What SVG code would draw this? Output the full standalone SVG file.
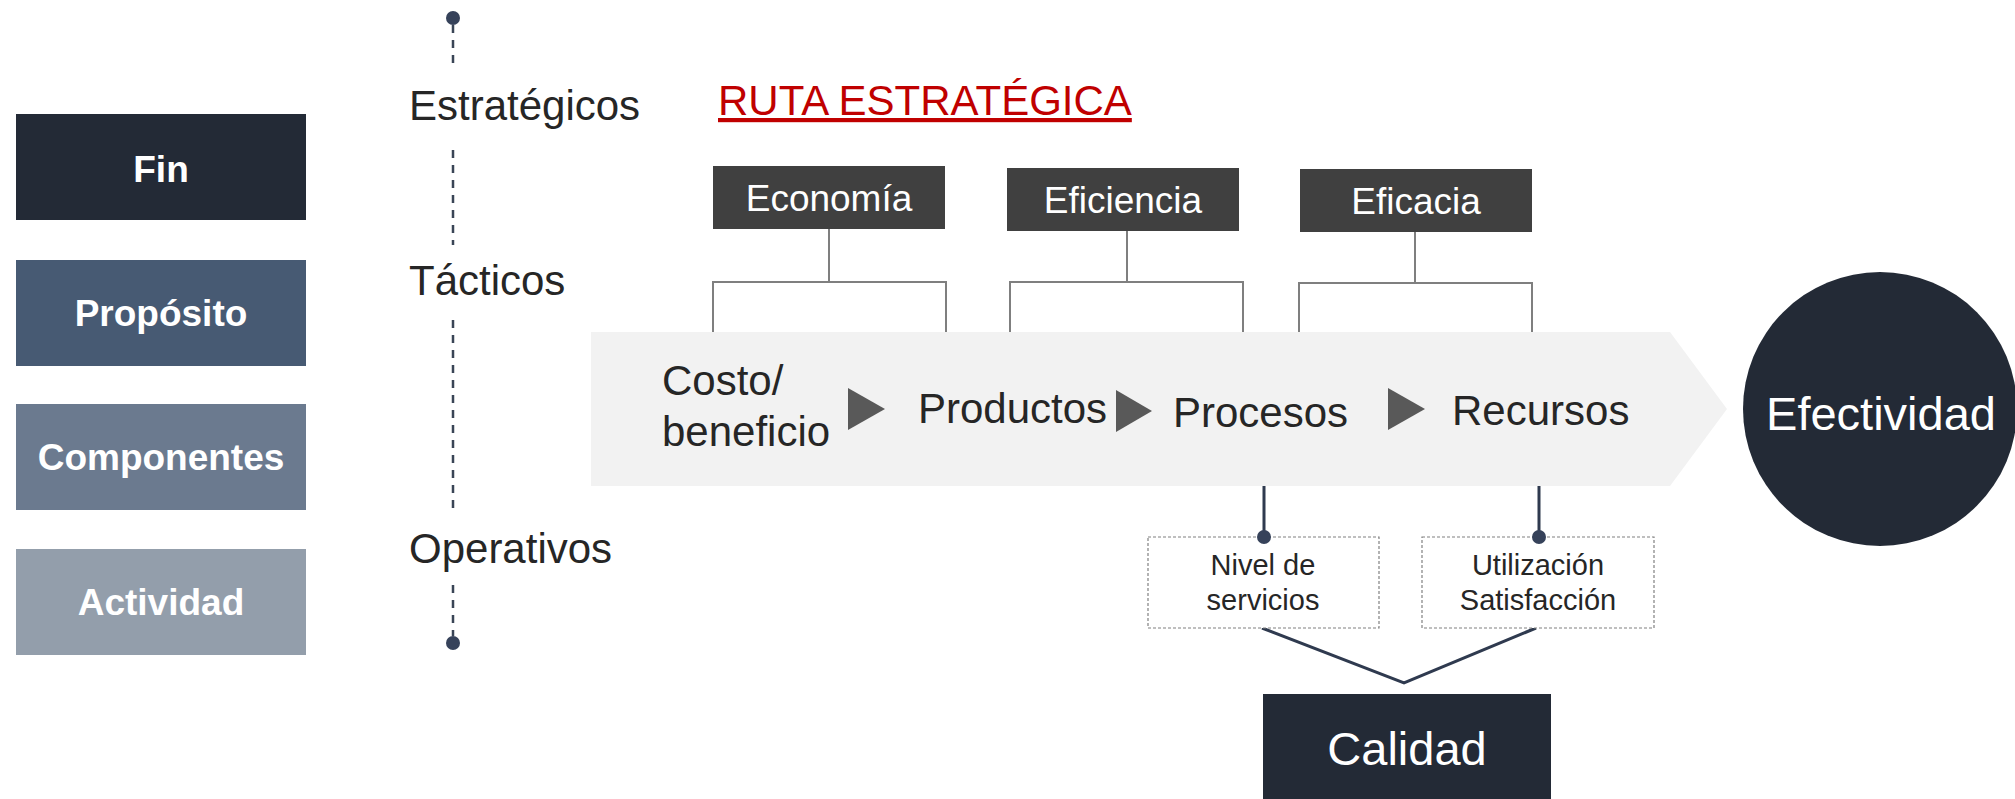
<svg xmlns="http://www.w3.org/2000/svg" width="2015" height="799" viewBox="0 0 2015 799">
<style>
.lbl{font-family:"Liberation Sans",Arial,sans-serif;fill:#262626}
.lvl{font-size:42px}
.side{font-family:"Liberation Sans",Arial,sans-serif;font-weight:bold;font-size:37px;fill:#ffffff;text-anchor:middle}
.hdr{font-family:"Liberation Sans",Arial,sans-serif;font-size:37px;fill:#ffffff;text-anchor:middle}
.hbox{fill:#404040}
.brk{fill:none;stroke:#7f7f7f;stroke-width:2}
.tri{fill:#595959}
.conn{fill:none;stroke:#2f3a4f;stroke-width:3}
.dot{fill:#36425a}
.dbox{fill:#ffffff;stroke:#808080;stroke-width:1.2;stroke-dasharray:3 2}
.small{font-size:29px;text-anchor:middle}
</style>
<rect width="2015" height="799" fill="#ffffff"/>

<g id="fin"><rect x="16" y="114" width="290" height="106" fill="#232a36"/><text class="side" x="161" y="182">Fin</text></g>
<g id="proposito"><rect x="16" y="260" width="290" height="106" fill="#475a73"/><text class="side" x="161" y="326">Propósito</text></g>
<g id="componentes"><rect x="16" y="404" width="290" height="106" fill="#6b7a8f"/><text class="side" x="161" y="470">Componentes</text></g>
<g id="actividad"><rect x="16" y="549" width="290" height="106" fill="#939eab"/><text class="side" x="161" y="615">Actividad</text></g>

<g id="levels">
<path d="M453 25V65M453 150V245M453 320V512M453 585V636" stroke="#3a4556" stroke-width="2.5" stroke-dasharray="8 7" fill="none"/>
<circle class="dot" cx="453" cy="18" r="7"/>
<circle class="dot" cx="453" cy="643" r="7"/>
<text class="lbl lvl" x="409" y="120">Estratégicos</text>
<text class="lbl lvl" x="409" y="295">Tácticos</text>
<text class="lbl lvl" x="409" y="563">Operativos</text>
</g>

<g id="title"><text x="718" y="115" font-family="&quot;Liberation Sans&quot;,Arial,sans-serif" font-size="42" fill="#c00000" text-decoration="underline">RUTA ESTRATÉGICA</text></g>

<g id="connectors">
<path class="brk" d="M829 229V282M713 332V282H946V332"/>
<path class="brk" d="M1127 231V282M1010 332V282H1243V332"/>
<path class="brk" d="M1415 232V283M1299 332V283H1532V332"/>
<path class="conn" d="M1264 486V537M1539 486V537"/>
<path class="conn" d="M1262 628L1404 683L1536 628"/>
</g>

<g id="economia"><rect class="hbox" x="713" y="166" width="232" height="63"/><text class="hdr" x="829" y="211">Economía</text></g>
<g id="eficiencia"><rect class="hbox" x="1007" y="168" width="232" height="63"/><text class="hdr" x="1123" y="213">Eficiencia</text></g>
<g id="eficacia"><rect class="hbox" x="1300" y="169" width="232" height="63"/><text class="hdr" x="1416" y="214">Eficacia</text></g>

<g id="ruta">
<path d="M591 332H1670L1727 409L1670 486H591Z" fill="#f2f2f2"/>
<text class="lbl lvl" x="662" y="395">Costo/</text>
<text class="lbl lvl" x="662" y="446">beneficio</text>
<path class="tri" d="M848 388L885 409L848 430Z"/>
<text class="lbl lvl" x="918" y="423">Productos</text>
<path class="tri" d="M1116 390L1152 411L1116 432Z"/>
<text class="lbl lvl" x="1173" y="427">Procesos</text>
<path class="tri" d="M1388 388L1425 409L1388 430Z"/>
<text class="lbl lvl" x="1452" y="425">Recursos</text>
</g>

<g id="efectividad"><circle cx="1880" cy="409" r="137" fill="#232a36"/><text x="1881" y="430" font-family="&quot;Liberation Sans&quot;,Arial,sans-serif" font-size="47" fill="#ffffff" text-anchor="middle">Efectividad</text></g>

<g id="nivel"><rect class="dbox" x="1148" y="537" width="231" height="91"/><circle class="dot" cx="1264" cy="537" r="7"/><text class="lbl small" x="1263" y="575">Nivel de</text><text class="lbl small" x="1263" y="610">servicios</text></g>
<g id="utilizacion"><rect class="dbox" x="1422" y="537" width="232" height="91"/><circle class="dot" cx="1539" cy="537" r="7"/><text class="lbl small" x="1538" y="575">Utilización</text><text class="lbl small" x="1538" y="610">Satisfacción</text></g>

<g id="calidad"><rect x="1263" y="694" width="288" height="105" fill="#232a36"/><text x="1407" y="765" font-family="&quot;Liberation Sans&quot;,Arial,sans-serif" font-size="47" fill="#ffffff" text-anchor="middle">Calidad</text></g>
</svg>
